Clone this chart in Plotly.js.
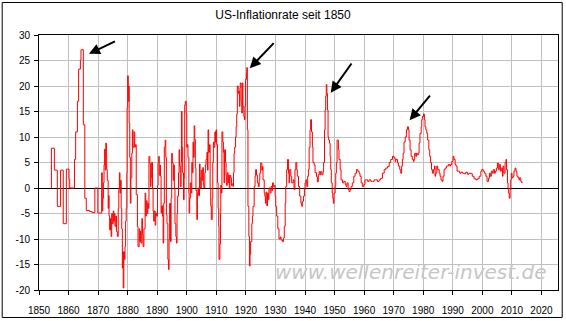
<!DOCTYPE html>
<html>
<head>
<meta charset="utf-8">
<script src="https://cdn.plot.ly/plotly-3.0.1.min.js"></script>
<style>html,body{margin:0;padding:0;background:#fff;}#chart{width:566px;height:321px;}</style>
</head>
<body>
<div id="chart"></div>
<script>
// Decimal year of each reading (monthly-ish samples)
var years = [
1854.2,1854.2,1855.2,1856.2,1857.3,1858.2,1859.25,1860.15,1860.4,1862.0,1862.4,1863.0,1863.4,1864.0,1864.2,1865.0,1865.5,1866.0,1867.1,1867.9,1868.9,1869.9,
1871.2,1871.4,1871.6,1871.8,1872.0,1872.2,1872.4,1872.6,1872.8,1872.9,1873.1,1873.4,1873.6,1873.7,1873.9,1874.2,1874.4,1874.6,1874.8,1875.1,1875.3,1875.5,1875.7,1876.0,1876.2,1876.5,1876.8,1877.0,1877.2,1877.4,1877.6,1877.8,1878.0,1878.2,1878.4,1878.5,1878.7,1878.9,1879.1,1879.3,1879.5,1879.7,1879.8,1880.0,1880.2,1880.4,
1880.5,1880.7,1880.9,1881.1,1881.4,1881.6,1881.8,1882.2,1882.4,1882.6,1882.9,1883.3,1883.5,1883.9,1884.1,1884.3,1884.5,1884.8,1885.0,1885.2,1885.5,1885.9,1886.1,1886.3,1886.6,1886.8,1887.0,1887.2,1887.5,1887.7,1887.9,1888.1,1888.4,1888.6,1888.8,1889.0,1889.3,1889.5,1889.8,
1890.1,1890.3,1890.5,1890.7,1891.0,1891.1,1891.3,1891.5,1891.8,1892.0,1892.2,1892.4,1892.7,1892.9,1893.1,1893.3,1893.6,1893.8,1894.0,1894.2,1894.5,1894.7,1894.9,1895.1,1895.4,1895.6,1895.8,1896.0,1896.3,1896.5,1896.7,1896.9,1897.2,1897.4,1897.6,1897.8,1898.1,1898.2,1898.4,1898.6,1898.9,1899.1,1899.3,1899.5,1899.8,
1900.0,1900.2,1900.4,1900.7,1900.8,1901.0,1901.2,1901.5,1901.7,1901.9,1902.1,1902.3,1902.5,1902.7,1902.9,1903.1,1903.4,1903.6,1903.8,1904.0,1904.3,1904.5,1904.7,1904.9,1905.2,1905.4,1905.6,1905.8,1906.1,1906.3,1906.5,1906.8,1907.0,1907.2,1907.4,1907.7,1907.9,1908.1,1908.3,1908.6,1908.8,1909.0,1909.2,1909.5,1909.7,1909.9,1910.1,1910.4,1910.6,1910.8,
1910.9,1911.2,1911.4,1911.5,1911.7,1911.9,1912.2,1912.4,1912.6,1912.8,1913.1,1913.3,1913.5,1913.7,1914.0,1914.2,1914.4,1914.6,1914.9,1915.1,1915.3,1915.6,1915.8,1916.0,1916.2,1916.5,1916.7,1916.9,1917.1,1917.4,1917.6,1917.8,1918.0,1918.1,1918.4,1918.6,1918.8,1919.0,1919.3,1919.5,1919.7,1919.9,
1920.2,1920.3,1920.5,1920.7,1921.0,1921.2,1921.4,1921.6,1922.0,1922.2,1922.4,1922.8,1923.1,1923.3,1923.6,1923.9,1924.2,1924.5,1924.7,1925.0,1925.4,1925.6,1925.8,1926.2,1926.4,1926.6,1926.8,1927.1,1927.3,1927.6,1927.8,1928.2,1928.5,1928.8,1929.0,1929.3,1929.7,1929.9,
1930.1,1930.4,1930.8,1931.2,1931.6,1931.9,1932.4,1932.7,1933.0,1933.3,1933.5,1933.8,1934.1,1934.4,1934.6,1934.8,1935.2,1935.5,1936.0,1936.3,1936.6,1936.9,1937.2,1937.4,1937.8,1938.2,1938.6,1938.9,1939.1,1939.5,1939.8,1940.0,1940.3,1940.6,1940.9,
1941.15,1941.4,1941.7,1941.9,1942.2,1942.5,1942.7,1943.1,1943.4,1943.9,1944.2,1944.5,1944.8,1945.1,1945.3,1945.7,1946.1,1946.3,1946.6,1946.8,1947.0,1947.2,1947.4,1947.6,1947.8,1948.0,1948.3,1948.5,1948.7,1948.9,1949.2,1949.4,1949.6,1949.8,
1950.2,1950.4,1950.6,1950.85,1951.1,1951.3,1951.5,1951.9,1952.2,1952.7,1953.1,1953.6,1953.9,1954.2,1954.6,1954.9,1955.25,1955.6,1956.0,1956.5,1956.95,1957.4,1957.85,1958.3,1958.6,1959.0,1959.4,1959.9,
1960.3,1960.8,1961.2,1961.7,1962.25,1962.8,1963.4,1963.9,1964.5,1965.1,1965.6,1966.2,1966.8,1967.3,1967.9,1968.5,1969.0,1969.6,1970.1,1970.5,
1970.7,1971.3,1971.6,1972.05,1972.4,1972.7,1972.95,1973.2,1973.5,1973.9,1974.3,1974.65,1975.0,1975.2,1975.55,1975.9,1976.3,1976.7,1976.9,1977.1,1977.5,1977.7,1978.0,1978.4,1978.6,1978.9,1979.3,1979.5,1979.7,
1980.1,1980.4,1980.6,1980.9,1981.2,1981.5,1981.9,1982.2,1982.5,1982.8,1983.1,1983.45,1983.8,1984.0,1984.2,1984.6,1984.9,1985.4,1985.7,1986.0,1986.4,1986.7,1987.05,1987.4,1987.85,1988.2,1988.5,1989.0,1989.3,1989.65,
1990.1,1990.4,1990.8,1991.1,1991.45,1991.9,1992.35,1992.8,1993.3,1993.8,1994.4,1994.95,1995.5,1996.1,1996.6,1997.2,1997.8,1998.3,1998.9,1999.5,1999.8,
2000.3,2000.7,2001.2,2001.6,2002.1,2002.4,2002.7,2003.05,2003.4,2003.7,2004.1,2004.4,2004.75,2005.1,2005.4,2005.75,2006.1,2006.4,2006.8,2007.0,2007.3,2007.7,2008.0,2008.2,2008.5,2008.7,2008.9,2009.1,2009.4,2009.6,2009.8,
2010.05,2010.4,2010.7,2011.05,2011.4,2011.7,2012.1,2012.4,2012.6,2013.0,2013.3,2013.5
];
// Year-on-year inflation rate in percent
var rates = [
0,7.8,3.5,-3.6,3.5,-7.0,3.7,1.7,0,5.6,11.0,17.0,23.3,25.1,27.1,12.4,-2.0,-4.4,-4.6,-4.8,0,-4.9,
3.0,-4.5,-2.0,1.0,4.5,7.6,3.5,8.8,6.5,3.6,1.5,-4.0,-1.5,-5.5,-8.2,-6.0,-9.5,-5.0,-7.0,-4.5,-6.5,-5.0,-7.5,-5.5,-8.5,-9.5,-4.0,0,3.0,-1.0,1.5,-4.0,-8.0,-15.7,-12.5,-19.6,-12.5,-14.0,-11.5,-6.5,-4.0,3.0,15.7,22.0,17.0,20.0,
12.7,6,-3,2,6.8,11.4,8,11,8,8.5,-1.3,-7.5,-11.5,-8,-10.5,-8.5,-10.8,-6,-9,-11.5,-8,-1,-5.5,-2.5,-5,-3,-4,6.2,4.8,0.3,2,5,0,-4.6,-6.5,-4.5,-7.3,-4.9,-5.5,
0.5,5,6.2,2.5,4.5,2.3,-4.9,-3.5,-5.5,-10.8,-3,8,9.4,6,-5.2,-7,-14,-16,-10,-3,-10.5,-2,6.8,4.9,1.5,4.5,0,-7,-9.5,-10.8,-5,-1.6,3,7.5,4.3,0.3,5,15,8,3,-2.3,2,16.3,17,14.5,
8,8.5,6,-1,-4.9,-2,1,-1,5,3,9,6,12.2,9.5,4,-0.5,-6.2,-1,0,-1.5,4.7,2,0,3.5,1.5,4,0.5,0,3,4.5,5.6,7,3.5,11.4,7,8.5,0,-3.5,-6.2,-2,5,9,8,11,9,11.4,8.5,1,-4,-7.5,
-14,-11,-5,0.5,-1,11,9,7,1,7.5,5,2.5,0.5,3,1,2.5,0,2.5,2,0.5,0.8,0.3,3,6.8,8,10,12,14.5,20,18.5,19,16,19.6,20.6,17,14.7,20.6,16,14,13.4,16,21.3,
22.5,23.6,11.4,-3.6,-9.5,-15.3,-13,-10.5,-7,-5.5,-3.6,0.3,2.3,3.6,2.5,1,0.3,1.5,2.9,4.9,3.5,4.2,1.6,-1,-1.6,-3,-0.8,-3.5,-1,-2.3,0,-1,0.3,-0.5,1,0.3,0.5,-1.5,
-3.6,-5.5,-8,-10,-9.6,-10.2,-10.5,-9.8,-7.5,-3,0.3,3.6,5.6,2.9,1,3.6,2.3,1,1.6,-0.3,3.6,5,3.6,2.3,0.3,-1.6,-3,-3.6,-2.6,-1.6,-0.3,1,1.6,0.3,2.3,
3.6,7.9,11.4,13.4,11,8,5,4.5,3,2.2,1.2,2.6,3.2,2.6,3.2,2.6,3.2,5,11.4,15.3,18,20.3,18.5,15.3,10,9.4,8.8,6.2,3.6,1,-1,-2,-3,-1,
0.3,2.9,5,9.4,9.4,7.5,5.6,3.6,1.6,1,1.3,0.7,0.3,1,-0.3,-0.7,-0.3,0.3,1,2.3,2.9,3.6,3.3,2.9,2.3,1,0.3,0.7,
1.6,1.6,1.3,1.6,1.3,1.3,1.6,1.6,1.3,1.6,1.9,2.9,3.6,3.9,4.2,5,5.6,6.2,5.9,5.2,
5.6,4.9,4.3,3.6,2.9,4.3,5.6,6.8,9,10,11.4,12,11.4,9.4,7.5,6.2,5.6,5.2,5.6,6.8,6.2,6.8,6.5,6.8,8.8,10.7,12,13.4,14,
14.5,13.4,12,11.4,10.7,9.4,7.5,6.2,5,3.6,2.9,3.6,4.3,2.3,2.9,4.3,3.6,2.9,2.3,1.6,1.3,2.3,3.6,3.9,4.3,4.3,4.6,4.3,4.6,5.2,
6.2,5.6,4.6,4.3,3.3,3.3,2.9,3.1,2.9,2.8,3.1,2.7,2.9,2.8,2.3,1.8,1.6,1.8,2.3,3.3,3.6,
3.3,2.9,2.3,1.3,1.9,2.9,2.3,3.3,2.9,3.6,2.9,3.3,3.9,4.9,3.6,4.6,3.3,3.9,2.3,4.3,2.9,5,5.6,3.6,1,-0.3,-1,-2,-0.3,1.6,2.9,
2,2.3,3.3,3.9,3.3,2.3,2,1.6,2,1.3,1,1.1
];
var xTickYears = [1850,1860,1870,1880,1890,1900,1910,1920,1930,1940,1950,1960,1970,1980,1990,2000,2010,2020];
var yTickValues = [-20,-15,-10,-5,0,5,10,15,20,25,30];

// Arrows pointing at the peaks: tip (year, %) and tail (year, %)
var arrowTipX  = [1866.9, 1921.3, 1948.7, 1975.4];
var arrowTipY  = [26.3, 23.5, 18.7, 13.3];
var arrowTailX = [1876.2, 1929.9, 1956.1, 1982.7];
var arrowTailY = [28.9, 28.7, 24.7, 18.4];

var font = 'Liberation Sans, Arial, sans-serif';
var annotations = arrowTipX.map(function (x, i) {
  return {x: x, y: arrowTipY[i], ax: arrowTailX[i], ay: arrowTailY[i],
    xref: 'x', yref: 'y', axref: 'x', ayref: 'y', text: '', showarrow: true,
    arrowhead: 2, arrowsize: 1.1, arrowwidth: 2, arrowcolor: '#000', standoff: 0};
});
annotations.push({
  text: 'www.wellenreiter-invest.de', xref: 'paper', yref: 'paper', x: 0.716, y: 0.07,
  xanchor: 'center', yanchor: 'middle', showarrow: false,
  font: {family: 'DejaVu Sans, Verdana, sans-serif', size: 20, color: '#c6c6c6', style: 'italic'}
});

var trace = {
  x: years, y: rates, type: 'scatter', mode: 'lines',
  line: {color: '#ff0000', width: 1, shape: 'hv'}, hoverinfo: 'none'
};

var axisCommon = {
  showgrid: true, gridcolor: '#c0c0c0', gridwidth: 1,
  showline: true, linecolor: '#000', linewidth: 1, mirror: true,
  ticks: 'outside', ticklen: 4, tickcolor: '#000', tickwidth: 1,
  tickfont: {family: font, size: 10, color: '#000'}, fixedrange: true
};

var layout = {
  width: 566, height: 321,
  margin: {l: 39, r: 8, t: 35, b: 31, pad: 0},
  paper_bgcolor: '#fff', plot_bgcolor: '#fff',
  showlegend: false,
  title: {text: 'US-Inflationrate seit 1850', font: {family: font, size: 12, color: '#000'},
    xref: 'container', x: 0.5, xanchor: 'center', yref: 'container', y: 0.955, yanchor: 'middle'},
  xaxis: Object.assign({}, axisCommon, {range: [1850, 2025.6], tickvals: xTickYears,
    ticktext: xTickYears.map(String), zeroline: false, ticklabelstandoff: 7}),
  yaxis: Object.assign({}, axisCommon, {range: [-20, 30], tickvals: yTickValues,
    ticktext: yTickValues.map(String), zeroline: true, zerolinecolor: '#000', zerolinewidth: 1,
    ticklabelstandoff: 2}),
  annotations: annotations,
  shapes: [{type: 'rect', xref: 'paper', yref: 'paper', x0: -0.0709, x1: 1.0081, y0: -0.1078, y1: 1.1275,
    line: {color: '#000', width: 1}, fillcolor: 'rgba(0,0,0,0)', layer: 'above'}]
};

Plotly.newPlot('chart', [trace], layout, {staticPlot: true, displayModeBar: false});
</script>
</body>
</html>
